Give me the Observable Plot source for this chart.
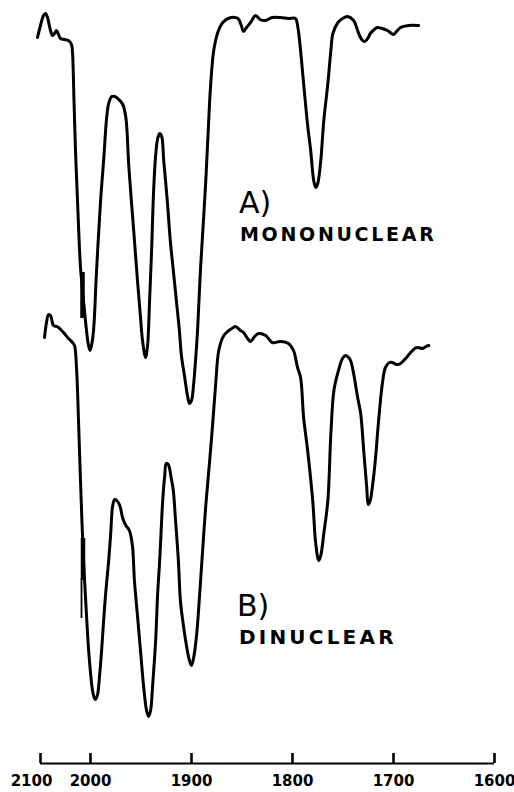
<!DOCTYPE html>
<html>
<head>
<meta charset="utf-8">
<script src="https://cdn.jsdelivr.net/npm/d3@7"></script>
<script src="https://cdn.jsdelivr.net/npm/@observablehq/plot@0.6"></script>
<style>
  html, body { margin: 0; padding: 0; background: #fff; }
  #chart svg { display: block; }
</style>
</head>
<body>
<div id="chart"></div>
<script>
// Wavenumber (cm-1) and pen trace reading (chart units, 0 = top of chart, 763 = axis)
const wavenumbersA = [2106,2100,2094,2090,2086,2080,2076,2072,2068,2064,2060,2052,2044,2038,2036,2033,2030,2026,2020,2014,2008,2004,2001,
  1999,1997,1994,1990,1987,1984,1982,1979,1976,1972,1968,1965,1962,1957,1953.5,1950.5,1948.5,1945.5,1943.5,1941.5,1939.5,1937.5,1935.5,1933.5,1931.5,1929.5,1927.5,
  1924,1921,1918,1915,1912,1910,1907,1904,1902,1900,1898,1896,1894,1891,1886,1882,1880,1878,1874,1869,1861,1854,1851,1848.5,1845.5,1841.5,1836.5,1832,1827,1820,1812,1804,1797,
  1795,1793,1789,1785,1782,1779,1777,1775,1772,1769,1765,1762,1760,1755,1750.5,1745.5,1739.5,1736.5,1734.5,1731.5,1728.5,1725,1723,1719,1716,1711,1706,1702,1700,1697,1693,1685,1675];
const traceA = [37,25,15,13,17,30,35,33,30,34,38,39,40,44,52,100,150,200,267,300,330,345,350,
  345,330,270,200,160,117,103,96,96,99,104,117,167,233,280,317,340,357,345,300,250,190,155,138,133,136,160,
  200,240,270,300,330,355,375,395,403,400,385,360,330,267,183,100,70,50,32,22,17,18,24,31,27,22,15,19,20,17,17,18,18,
  25,40,83,125,150,180,187,183,160,120,83,50,33,22,18,16,20,27,33,39,41,37,33,29,27,28,30,33,34,31,27,25,25];

const wavenumbersB = [2092,2088,2084,2080,2074,2068,2064,2054,2044,2036,2032,2028,2024,2020,2014,2008,2004,2000,1998,1996,1995,
  1993,1991,1989,1987,1985,1982,1980,1978,1976,1974,1971,1968,1965,1961.5,1958.5,1956.5,1953.5,1950.5,1947.5,1944.5,1942.5,1940.5,1938.5,1935.5,1933.5,1931.5,1928.5,1926.5,1925,1923,1920,1918,1916,1913,1911,1908,1905,1902,1900,
  1898,1895,1892,1889,1886,1882,1879,1876,1873,1868,1863,1858.5,1856.5,1851.5,1848.5,1844.5,1841.5,1837.5,1833.5,1826.5,1820,1812,1804,1799,1795,1792,1789,1785,1780,1777,1774,1772,1769,1765,1762,1759,1755,
  1750.5,1747.5,1744.5,1742.5,1739.5,1735.5,1732.5,1729.5,1726.5,1725,1723,1721,1718,1715,1711,1708,1704,1701,1697,1693,1688,1683,1679,1676,1671,1668,1665];
const traceB = [337,322,314,315,325,326,327,332,338,342,345,367,420,480,560,615,648,672,690,698,699,
  694,675,650,620,593,560,533,505,499,500,505,518,525,530,545,580,615,650,685,710,716,710,685,640,593,560,500,475,463,464,478,490,517,560,600,625,645,660,665,
  658,635,595,550,507,460,423,383,350,335,330,327,326,330,332,338,341,336,333,335,342,341,343,350,367,377,417,450,500,543,560,555,533,500,433,390,372,
  358,355,357,360,373,397,413,450,487,504,500,487,460,423,383,367,362,362,364,363,358,352,348,347,348,346,345];

// Pen markers near 2015 cm-1
const markerWavenumbers = [2016, 2015, 2018];
const markerTops = [272, 538, 578];
const markerBottoms = [318, 580, 618];
const markerWeights = ["thick", "thick", "thin"];

// Axis
const tickValues = [2100, 2000, 1900, 1800, 1700, 1600];
const tickLabels = ["2100", "2000", "1900", "1800", "1700", "1600"];

const spectrumA = wavenumbersA.map((w, i) => ({wn: w, t: traceA[i]}));
const spectrumB = wavenumbersB.map((w, i) => ({wn: w, t: traceB[i]}));
const markers = markerWavenumbers.map((w, i) => ({wn: w, top: markerTops[i], bottom: markerBottoms[i], weight: markerWeights[i]}));
const ticks = tickValues.map((v, i) => ({v, label: tickLabels[i]}));

const font = "DejaVu Sans, sans-serif";

const chart = Plot.plot({
  width: 514,
  height: 792,
  marginLeft: 40,
  marginRight: 20,
  marginTop: 0,
  marginBottom: 29,
  style: {background: "#fff", overflow: "visible"},
  x: {type: "linear", domain: [2100, 2000, 1600], range: [40, 90, 494], axis: null},
  y: {domain: [0, 763], range: [0, 763], axis: null},
  marks: [
    Plot.line(spectrumA, {x: "wn", y: "t", stroke: "#000", strokeWidth: 3, curve: "catmull-rom", strokeLinejoin: "round", strokeLinecap: "round"}),
    Plot.line(spectrumB, {x: "wn", y: "t", stroke: "#000", strokeWidth: 3, curve: "catmull-rom", strokeLinejoin: "round", strokeLinecap: "round"}),
    Plot.ruleX(markers.filter(d => d.weight === "thick"), {x: "wn", y1: "top", y2: "bottom", stroke: "#000", strokeWidth: 4.5}),
    Plot.ruleX(markers.filter(d => d.weight === "thin"), {x: "wn", y1: "top", y2: "bottom", stroke: "#000", strokeWidth: 1.8}),
    // axis baseline and ticks
    Plot.ruleY([763], {stroke: "#000", strokeWidth: 2}),
    Plot.ruleX(ticks, {x: "v", insetTop: 753, stroke: "#000", strokeWidth: 2.6}),
    Plot.text(ticks.filter(d => d.v !== 2100), {x: "v", text: "label", frameAnchor: "bottom", dy: 22, lineAnchor: "bottom", fontSize: 15, fontWeight: "bold", fontFamily: font, fill: "#000"}),
    Plot.text(ticks.filter(d => d.v === 2100), {x: "v", text: "label", frameAnchor: "bottom", dy: 22, dx: -9, lineAnchor: "bottom", fontSize: 15, fontWeight: "bold", fontFamily: font, fill: "#000"}),
    // labels
    Plot.text(["A)"], {x: 1853, y: 212, text: d => d, textAnchor: "start", lineAnchor: "bottom", fontSize: 30, fontFamily: font, fill: "#000"}),
    Plot.text(["MONONUCLEAR"], {x: 1852, y: 240, text: d => d, textAnchor: "start", lineAnchor: "bottom", fontSize: 19, fontWeight: "bold", fontFamily: font, fill: "#000"}),
    Plot.text(["B)"], {x: 1855, y: 615, text: d => d, textAnchor: "start", lineAnchor: "bottom", fontSize: 30, fontFamily: font, fill: "#000"}),
    Plot.text(["DINUCLEAR"], {x: 1853, y: 643, text: d => d, textAnchor: "start", lineAnchor: "bottom", fontSize: 20, fontWeight: "bold", fontFamily: font, fill: "#000"})
  ]
});

const spacing = {"MONONUCLEAR": "2.7px", "DINUCLEAR": "3.2px"};
d3.select(chart).selectAll("text").each(function() {
  const s = spacing[this.textContent];
  if (s) this.style.letterSpacing = s;
});

document.getElementById("chart").appendChild(chart);
</script>
</body>
</html>
